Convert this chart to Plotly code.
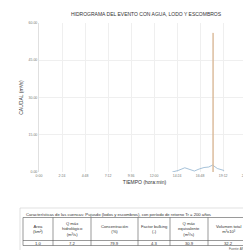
import plotly.graph_objects as go

# ---- data ----
hydro_time = [13.9, 14.5, 15.2, 15.7, 16.2, 16.7, 17.2, 17.7, 18.1, 18.6, 19.3]
hydro_q = [0.0, 0.6, 1.7, 1.0, 0.4, 1.2, 1.8, 2.0, 2.8, 1.4, 0.6]
spike_time = [18.14, 18.15, 18.16]
spike_q = [0.0, 56.0, 0.0]
x_tickvals = [0, 2.4, 4.8, 7.2, 9.6, 12.0, 14.4, 16.8, 19.2, 21.6]
x_ticktext = ["0:00", "2:24", "4:48", "7:12", "9:36", "12:00", "14:24", "16:48", "19:12", "21:36"]
y_tickvals = [0, 15, 30, 45, 60]
y_ticktext = ["0.00", "15.00", "30.00", "45.00", "60.00"]

table_caption = "Características de las cuencas: Pujusdo (lodos y escombros), con período de retorno Tr = 200 años"
col_headers = ["Área<br>(km²)", "Q máx<br>hidrológico<br>(m³/s)", "Concentración<br>(%)",
               "Factor bulking<br>(-)", "Q máx<br>equivalente<br>(m³/s)", "Volumen total<br>m³x10³"]
col_values = ["1.0", "7.2", "79.9", "4.3", "30.9", "32.2"]
source_text = "Fuente: ANA"

# ---- figure ----
fig = go.Figure()
fig.add_trace(go.Scatter(x=hydro_time, y=hydro_q, mode="lines",
                         line=dict(color="#8fb3cf", width=0.8), showlegend=False))
fig.add_trace(go.Scatter(x=spike_time, y=spike_q, mode="lines",
                         line=dict(color="#d9b896", width=0.9), showlegend=False))

W, H = 251, 250
L, R, T, B = 31, 9, 15, 86
pw, ph = W - L - R, H - T - B

def px(x):
    return (x - L) / pw

def py(y):
    return (H - B - y) / ph

fig.update_layout(
    width=W, height=H,
    margin=dict(l=L, r=R, t=T, b=B),
    paper_bgcolor="white", plot_bgcolor="white",
    font=dict(family="Liberation Sans, Arial", size=4, color="#555"),
    title=dict(text="HIDROGRAMA DEL EVENTO CON AGUA, LODO Y ESCOMBROS",
               x=0.55, xanchor="center", y=1 - 6 / H, yanchor="middle",
               font=dict(size=5, color="#333")),
    xaxis=dict(range=[0, 22.0], tickvals=x_tickvals, ticktext=x_ticktext,
               showgrid=True, gridcolor="#efefef", gridwidth=1, zeroline=False,
               showline=False, ticks="", tickfont=dict(size=3.5, color="#777"),
               title=dict(text="TIEMPO (hora:min)", font=dict(size=5, color="#333"), standoff=3)),
    yaxis=dict(range=[0, 60], tickvals=y_tickvals, ticktext=y_ticktext,
               showgrid=True, gridcolor="#efefef", zeroline=False,
               showline=True, linecolor="#e0e0e0", ticks="", tickfont=dict(size=3.5, color="#777"),
               title=dict(text="CAUDAL (m³/s)", font=dict(size=5, color="#333"), standoff=4)),
)

shapes = []
anns = []
# outer box with shadow
shapes.append(dict(type="rect", xref="paper", yref="paper", x0=px(13.5), x1=px(244.5),
                   y0=py(246.5), y1=py(201.5), line=dict(width=0), fillcolor="#e4e4e4", layer="below"))
shapes.append(dict(type="rect", xref="paper", yref="paper", x0=px(12), x1=px(243),
                   y0=py(245), y1=py(200), line=dict(color="#cfcfcf", width=0.6), fillcolor="white", layer="below"))
# table grid
tl, tr = 15, 240
ttop, hdr_bottom, tbottom = 209.5, 232.5, 237.5
seps = [tl, 45, 83, 130, 162, 200, tr]
lc = dict(color="#555", width=0.6)
shapes.append(dict(type="rect", xref="paper", yref="paper", x0=px(tl), x1=px(tr), y0=py(tbottom), y1=py(ttop), line=lc))
shapes.append(dict(type="line", xref="paper", yref="paper", x0=px(tl), x1=px(tr), y0=py(hdr_bottom), y1=py(hdr_bottom), line=lc))
for s in seps[1:-1]:
    shapes.append(dict(type="line", xref="paper", yref="paper", x0=px(s), x1=px(s), y0=py(tbottom), y1=py(ttop), line=lc))
anns.append(dict(text=table_caption, xref="paper", yref="paper", x=px(tl + 1), y=py(206),
                 xanchor="left", yanchor="middle", showarrow=False, font=dict(size=4.2, color="#333")))
for i, (h, v) in enumerate(zip(col_headers, col_values)):
    cx = (seps[i] + seps[i + 1]) / 2
    anns.append(dict(text=h, xref="paper", yref="paper", x=px(cx), y=py((ttop + hdr_bottom) / 2),
                     xanchor="center", yanchor="middle", showarrow=False,
                     font=dict(size=4.2, color="#333")))
    anns.append(dict(text=v, xref="paper", yref="paper", x=px(cx), y=py((hdr_bottom + tbottom) / 2),
                     xanchor="center", yanchor="middle", showarrow=False,
                     font=dict(size=4.2, color="#333")))
anns.append(dict(text=source_text, xref="paper", yref="paper", x=px(240), y=py(240.5),
                 xanchor="right", yanchor="middle", showarrow=False, font=dict(size=3, color="#555")))

fig.update_layout(shapes=shapes, annotations=anns)
fig.write_html("out.html")
